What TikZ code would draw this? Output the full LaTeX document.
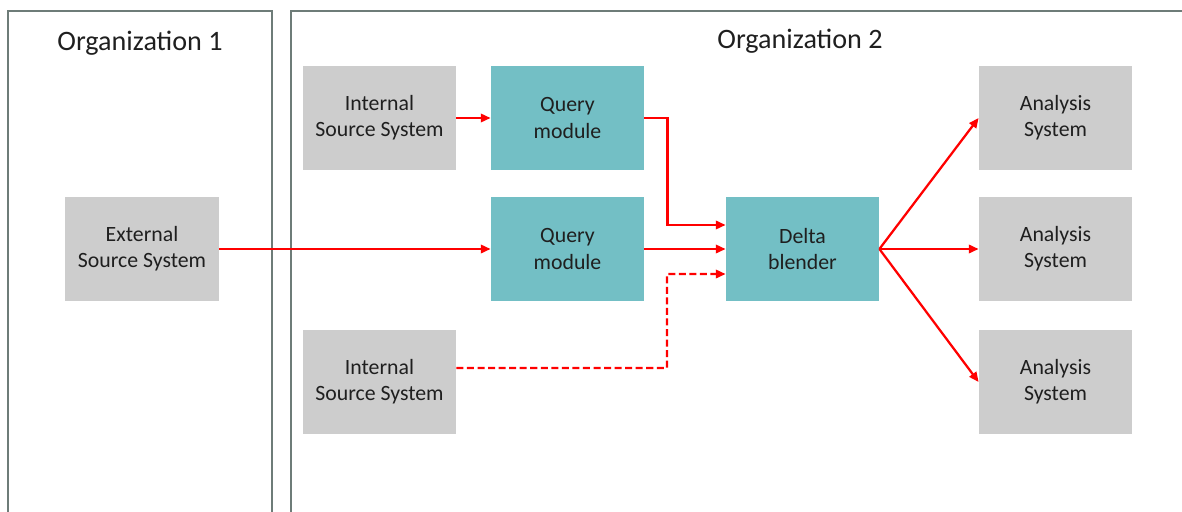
\documentclass[tikz,border=0pt]{standalone}
\usepackage{fontspec}
\setmainfont{Carlito}
\usetikzlibrary{arrows.meta}
\definecolor{qteal}{HTML}{73BFC5}
\definecolor{boxgray}{HTML}{CDCDCD}
\definecolor{framegray}{HTML}{6E7C78}
\definecolor{flowred}{HTML}{FF0000}
\tikzset{
  sys/.style={fill=boxgray,minimum width=3.83cm,minimum height=2.6cm,align=center,text=black!88,font=\fontsize{15.5}{18.5}\selectfont},
  mod/.style={sys,fill=qteal},
  flow/.style={draw=flowred,line width=1.6pt,-{Triangle[length=7pt,width=6pt]}},
  frame/.style={draw=framegray,line width=1pt},
  orgtitle/.style={text=black!88,font=\fontsize{20}{24}\selectfont}
}

\begin{document}
\begin{tikzpicture}[x=0.025cm,y=-0.025cm]
\useasboundingbox (0,0) rectangle (1182,512);
% organizations
\draw[frame] (8,512) |- (272,11) -- (272,512);
\draw[frame] (291,512) |- (1182,11);
\node[orgtitle] (org1) at (140,43) {Organization 1};
\node[orgtitle] (org2) at (800,41) {Organization 2};
% systems and modules
\node[sys] (ext) at (142,249) {External\\Source System};
\node[sys] (iss1) at (379.5,118) {Internal\\Source System};
\node[sys] (iss2) at (379.5,382) {Internal\\Source System};
\node[mod] (qm1) at (567.5,118) {Query\\module};
\node[mod] (qm2) at (567.5,249) {Query\\module};
\node[mod] (delta) at (802.5,249) {Delta\\blender};
\node[sys] (an1) at (1055.5,118) {Analysis\\System};
\node[sys] (an2) at (1055.5,249) {Analysis\\System};
\node[sys] (an3) at (1055.5,382) {Analysis\\System};
% flows
\draw[flow] (iss1) -- (qm1);
\draw[flow] (ext) -- (qm2);
\draw[flow] (qm2) -- (delta);
\draw[flow] (qm1.east) -- ++(23,0) |- ([yshift=6mm]delta.west);
\draw[flow,dashed,dash pattern=on 5pt off 2.5pt] ([yshift=3.5mm]iss2.east) -- (667,368) |- ([yshift=-6.25mm]delta.west);
\foreach \a in {an1,an2,an3} \draw[flow] (delta.east) -- (\a.west);
\end{tikzpicture}
\end{document}
